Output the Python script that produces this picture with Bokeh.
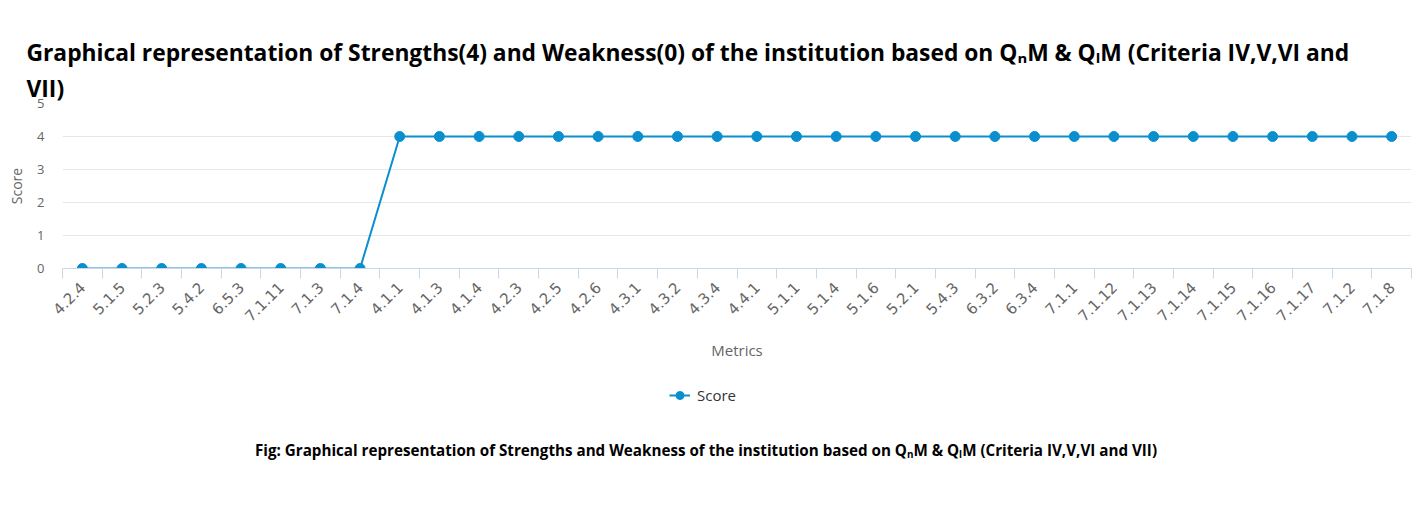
from bokeh.plotting import figure
from bokeh.models import (Range1d, FixedTicker, Title, Legend, LegendItem, Label)
from bokeh.layouts import column
from bokeh.embed import file_html
from bokeh.resources import INLINE

metrics = ["4.2.4", "5.1.5", "5.2.3", "5.4.2", "6.5.3", "7.1.11", "7.1.3", "7.1.4",
           "4.1.1", "4.1.3", "4.1.4", "4.2.3", "4.2.5", "4.2.6", "4.3.1", "4.3.2",
           "4.3.4", "4.4.1", "5.1.1", "5.1.4", "5.1.6", "5.2.1", "5.4.3", "6.3.2",
           "6.3.4", "7.1.1", "7.1.12", "7.1.13", "7.1.14", "7.1.15", "7.1.16",
           "7.1.17", "7.1.2", "7.1.8"]
scores = [0, 0, 0, 0, 0, 0, 0, 0,
          4, 4, 4, 4, 4, 4, 4, 4, 4, 4, 4, 4, 4, 4, 4, 4, 4, 4, 4, 4, 4, 4, 4, 4, 4, 4]
y_ticks = [0, 1, 2, 3, 4, 5]

title_line1 = "Graphical representation of Strengths(4) and Weakness(0) of the institution based on QₙM & QₗM (Criteria IV,V,VI and"
title_line2 = "VII)"
caption = "Fig: Graphical representation of Strengths and Weakness of the institution based on QₙM & QₗM (Criteria IV,V,VI and VII)"

n = len(metrics)
xs = list(range(n))
BLUE = "#0a8fce"
FONT = "Open Sans"
W = 1413

p = figure(width=W, height=370, output_backend="svg", toolbar_location=None,
           x_range=Range1d(-0.5, n - 0.5), y_range=Range1d(0, 5),
           min_border_left=62, min_border_right=2, min_border_top=103,
           min_border_bottom=102, outline_line_color=None)

r_line = p.line(xs, scores, line_color=BLUE, line_width=2)
r_pts = p.scatter(xs, scores, size=10, fill_color=BLUE, line_color=BLUE)

# x axis
xa = p.xaxis[0]
xa.ticker = FixedTicker(ticks=xs, minor_ticks=[i - 0.5 for i in range(n + 1)])
xa.major_label_overrides = {i: m for i, m in enumerate(metrics)}
xa.major_label_orientation = 0.785398
xa.major_tick_line_color = None
xa.minor_tick_in = 0
xa.minor_tick_out = 10
xa.minor_tick_line_color = "#ccd6eb"
xa.axis_line_color = "#ccd6eb"
xa.major_label_text_font = "DejaVu Sans"
xa.major_label_text_font_size = "15px"
xa.major_label_text_color = "#666666"
xa.major_label_standoff = 6
xa.axis_label = "Metrics"
xa.axis_label_text_font = FONT
xa.axis_label_text_font_style = "normal"
xa.axis_label_text_font_size = "15px"
xa.axis_label_text_color = "#666666"
xa.axis_label_standoff = 10

# y axis
ya = p.yaxis[0]
ya.ticker = FixedTicker(ticks=y_ticks)
ya.axis_line_color = None
ya.major_tick_line_color = None
ya.minor_tick_line_color = None
ya.major_label_text_font = FONT
ya.major_label_text_font_size = "13px"
ya.major_label_text_color = "#666666"
ya.major_label_standoff = 12
ya.axis_label = "Score"
ya.axis_label_text_font = FONT
ya.axis_label_text_font_style = "normal"
ya.axis_label_text_font_size = "14px"
ya.axis_label_text_color = "#666666"
ya.axis_label_standoff = 8

p.xgrid.grid_line_color = None
p.ygrid.ticker = FixedTicker(ticks=y_ticks)
p.ygrid.grid_line_color = "#e6e6e6"

# titles (above; first added is closest to the frame)
p.add_layout(Title(text=title_line2, align="left", offset=-36, standoff=0,
                   text_font=FONT, text_font_style="bold", text_font_size="22.8px",
                   text_color="#000000"), "above")
p.add_layout(Title(text=title_line1, align="left", offset=-36, standoff=6,
                   text_font=FONT, text_font_style="bold", text_font_size="22.8px",
                   text_color="#000000"), "above")

# lower strip: legend + caption (pixel-like ranges, no axes)
H2 = 142
p2 = figure(width=W, height=H2, output_backend="svg", toolbar_location=None,
            x_range=Range1d(0, W), y_range=Range1d(0, H2),
            x_axis_type=None, y_axis_type=None,
            min_border=0, outline_line_color=None)
p2.grid.visible = False
leg_line = p2.line(xs, scores, line_color=BLUE, line_width=2, visible=False)
leg_pts = p2.scatter(xs, scores, size=10, fill_color=BLUE, line_color=BLUE, visible=False)

legend = Legend(items=[LegendItem(label="Score", renderers=[leg_line, leg_pts])],
                location=(607, 107), orientation="horizontal", margin=0, padding=0,
                border_line_color=None, background_fill_alpha=0,
                inactive_fill_alpha=0,
                label_text_font=FONT, label_text_font_size="15px",
                label_text_color="#333333", glyph_width=21, glyph_height=20,
                label_standoff=7, label_height=20)
p2.add_layout(legend, "center")

p2.add_layout(Label(x=674, y=63, text=caption, text_align="center",
                    text_baseline="alphabetic", text_font=FONT,
                    text_font_style="bold", text_font_size="15.2px",
                    text_color="#000000"))

layout = column(p, p2, spacing=0)
open("out.html", "w").write(file_html(layout, INLINE))
